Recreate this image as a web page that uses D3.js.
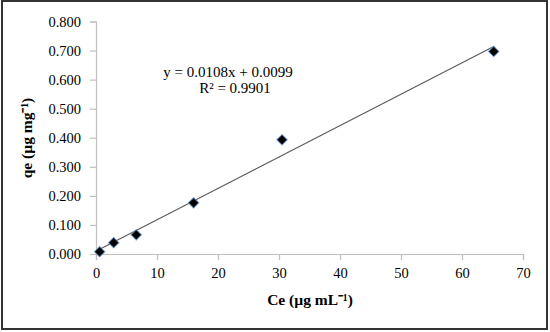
<!DOCTYPE html>
<html>
<head>
<meta charset="utf-8">
<script src="https://cdn.jsdelivr.net/npm/d3@7"></script>
<style>
  body { margin: 0; background: #fff; }
  text { font-family: "Liberation Serif", "Times New Roman", serif; fill: #000; }
</style>
</head>
<body>
<svg id="chart" width="550" height="332"></svg>
<script>
// data
var ce = [0.6, 2.9, 6.6, 16.0, 30.5, 65.2];
var qe = [0.008, 0.039, 0.066, 0.176, 0.393, 0.697];
var xTicks = [0, 10, 20, 30, 40, 50, 60, 70];
var yTicks = [0, 0.1, 0.2, 0.3, 0.4, 0.5, 0.6, 0.7, 0.8];
var slope = 0.0108, intercept = 0.0099;
var eqLabel = "y = 0.0108x + 0.0099";
var r2Label = "R² = 0.9901";

var svg = d3.select("#chart");

// outer frame
svg.append("rect")
    .attr("x", 2).attr("y", 1)
    .attr("width", 545).attr("height", 328)
    .attr("fill", "#fff")
    .attr("stroke", "#333")
    .attr("stroke-width", 2);

var x = d3.scaleLinear().domain([0, 70]).range([96, 523]);
var y = d3.scaleLinear().domain([0, 0.8]).range([254, 21.5]);

var axisColor = "#bfbfbf";

var gx = svg.append("g")
    .attr("transform", "translate(0,254)")
    .call(d3.axisBottom(x).tickValues(xTicks).tickSize(6).tickPadding(8).tickFormat(d3.format("d")));
var gy = svg.append("g")
    .attr("transform", "translate(96,0)")
    .call(d3.axisLeft(y).tickValues(yTicks).tickSize(6).tickPadding(9).tickFormat(d3.format(".3f")));

[gx, gy].forEach(function(g) {
    g.select(".domain").attr("stroke", axisColor).attr("stroke-width", 1.2);
    g.selectAll(".tick line").attr("stroke", axisColor).attr("stroke-width", 1.2);
    g.selectAll(".tick text")
        .attr("font-family", "Liberation Serif, serif")
        .attr("font-size", 14.5)
        .attr("fill", "#000");
});

// trendline over the data range
var xs = d3.extent(ce);
svg.append("line")
    .attr("x1", x(xs[0])).attr("y1", y(slope * xs[0] + intercept))
    .attr("x2", x(xs[1])).attr("y2", y(slope * xs[1] + intercept))
    .attr("stroke", "#595959")
    .attr("stroke-width", 1.1);

// diamond markers
var diamond = d3.symbol().type(d3.symbolSquare).size(56);
svg.append("g").selectAll("path")
    .data(ce)
    .join("path")
    .attr("d", diamond)
    .attr("transform", function(d, i) {
        return "translate(" + x(d) + "," + y(qe[i]) + ") rotate(45)";
    })
    .attr("fill", "#000")
    .attr("stroke", "#6fa6dc")
    .attr("stroke-opacity", 0.6)
    .attr("stroke-width", 1.2);

// equation
svg.append("text")
    .attr("x", 228).attr("y", 77)
    .attr("text-anchor", "middle")
    .attr("font-size", 15)
    .text(eqLabel);
svg.append("text")
    .attr("x", 235).attr("y", 93)
    .attr("text-anchor", "middle")
    .attr("font-size", 15)
    .text(r2Label);

// axis titles
svg.append("text")
    .attr("x", 310).attr("y", 305)
    .attr("text-anchor", "middle")
    .attr("font-size", 15.5)
    .attr("font-weight", "bold")
    .text("Ce (µg mL⁻¹)");
svg.append("text")
    .attr("transform", "translate(32,138) rotate(-90)")
    .attr("text-anchor", "middle")
    .attr("font-size", 15.5)
    .attr("font-weight", "bold")
    .text("qe (µg mg⁻¹)");
</script>
</body>
</html>
